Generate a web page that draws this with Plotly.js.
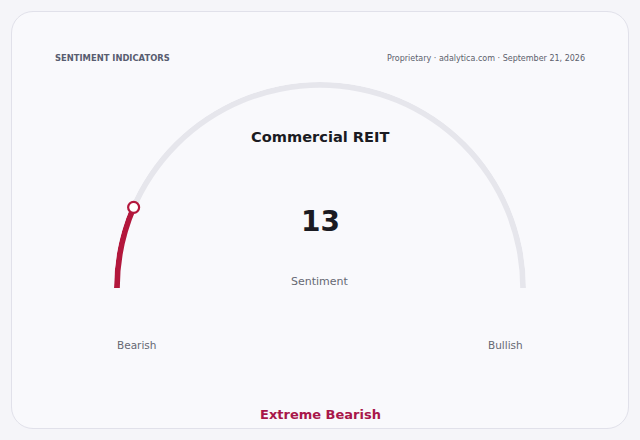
<!DOCTYPE html>
<html>
<head>
<meta charset="utf-8">
<script src="https://cdn.plot.ly/plotly-3.0.1.min.js"></script>
<style>
  body { margin: 0; background: #f5f5f9; }
  #wrap { position: relative; width: 640px; height: 440px; }
  #card {
    position: absolute; left: 11px; top: 11px; width: 616px; height: 416px;
    border: 1px solid #e1e1ea; border-radius: 22px; background: #f9f9fc;
  }
  #chart { position: absolute; left: 0; top: 0; width: 640px; height: 440px; }
</style>
</head>
<body>
<div id="wrap">
  <div id="card"></div>
  <div id="chart"></div>
</div>
<script>
// gauge data
const gaugeName = "Commercial REIT";
const gaugeValue = 13;
const gaugeMin = 0;
const gaugeMax = 100;
const gaugeLabel = "Sentiment";
const endLabels = ["Bearish", "Bullish"];
const zoneLabel = "Extreme Bearish";

const red = "#b3173c";
const font = "DejaVu Sans, sans-serif";

// value -> degrees along the half circle (0 = left end, 180 = right end)
function toDeg(v) {
  return (v - gaugeMin) / (gaugeMax - gaugeMin) * 180;
}

const ringBase = 0.972;
const ringWidth = 0.028;
const ringMid = ringBase + ringWidth / 2;

const traces = [
  // background track
  {
    type: "barpolar",
    theta: [toDeg((gaugeMin + gaugeMax) / 2)],
    width: [toDeg(gaugeMax)],
    base: [ringBase],
    r: [ringWidth],
    marker: { color: "#e6e6ec", line: { width: 0 } },
    hoverinfo: "skip",
  },
  // value arc
  {
    type: "barpolar",
    theta: [toDeg(gaugeValue) / 2],
    width: [toDeg(gaugeValue)],
    base: [ringBase],
    r: [ringWidth],
    marker: { color: red, line: { width: 0 } },
    hoverinfo: "skip",
  },
  // end marker
  {
    type: "scatterpolar",
    mode: "markers",
    theta: [toDeg(gaugeValue)],
    r: [ringMid],
    marker: { size: 11, color: "#ffffff", line: { color: red, width: 2.2 } },
    cliponaxis: false,
    hoverinfo: "skip",
  },
];

const layout = {
  width: 640,
  height: 440,
  margin: { l: 0, r: 0, t: 0, b: 0 },
  paper_bgcolor: "rgba(0,0,0,0)",
  plot_bgcolor: "rgba(0,0,0,0)",
  showlegend: false,
  font: { family: font },
  polar: {
    domain: { x: [0.178, 0.822], y: [0.3455, 0.8136] },
    sector: [0, 180],
    bgcolor: "rgba(0,0,0,0)",
    bargap: 0,
    radialaxis: { range: [0, 1], visible: false },
    angularaxis: {
      rotation: 180,
      direction: "clockwise",
      showline: false,
      showgrid: false,
      showticklabels: false,
      ticks: "",
    },
  },
  annotations: [
    {
      text: "SENTIMENT INDICATORS", x: 53 / 640, y: 1 - 58 / 440,
      xref: "paper", yref: "paper", xanchor: "left", yanchor: "middle",
      showarrow: false, font: { size: 8.4, color: "#585d70", weight: "bold" },
    },
    {
      text: "Proprietary · adalytica.com · September 21, 2026", x: 587 / 640, y: 1 - 58 / 440,
      xref: "paper", yref: "paper", xanchor: "right", yanchor: "middle",
      showarrow: false, font: { size: 8, color: "#5c5f6c" },
    },
    {
      text: gaugeName, x: 0.5, y: 1 - 137 / 440,
      xref: "paper", yref: "paper", xanchor: "center", yanchor: "middle",
      showarrow: false, font: { size: 14.6, color: "#1b1b22", weight: "bold" },
    },
    {
      text: String(gaugeValue), x: 0.5, y: 1 - 221 / 440,
      xref: "paper", yref: "paper", xanchor: "center", yanchor: "middle",
      showarrow: false, font: { size: 28, color: "#1b1b22", weight: "bold" },
    },
    {
      text: gaugeLabel, x: 0.5, y: 1 - 281 / 440,
      xref: "paper", yref: "paper", xanchor: "center", yanchor: "middle",
      showarrow: false, font: { size: 11, color: "#666873" },
    },
    {
      text: endLabels[0], x: 136 / 640, y: 1 - 345 / 440,
      xref: "paper", yref: "paper", xanchor: "center", yanchor: "middle",
      showarrow: false, font: { size: 10.5, color: "#666873" },
    },
    {
      text: endLabels[1], x: 505 / 640, y: 1 - 345 / 440,
      xref: "paper", yref: "paper", xanchor: "center", yanchor: "middle",
      showarrow: false, font: { size: 10.5, color: "#666873" },
    },
    {
      text: zoneLabel, x: 0.5, y: 1 - 414 / 440,
      xref: "paper", yref: "paper", xanchor: "center", yanchor: "middle",
      showarrow: false, font: { size: 13, color: "#a8174a", weight: "bold" },
    },
  ],
};

Plotly.newPlot("chart", traces, layout, { staticPlot: true, displayModeBar: false });
</script>
</body>
</html>
